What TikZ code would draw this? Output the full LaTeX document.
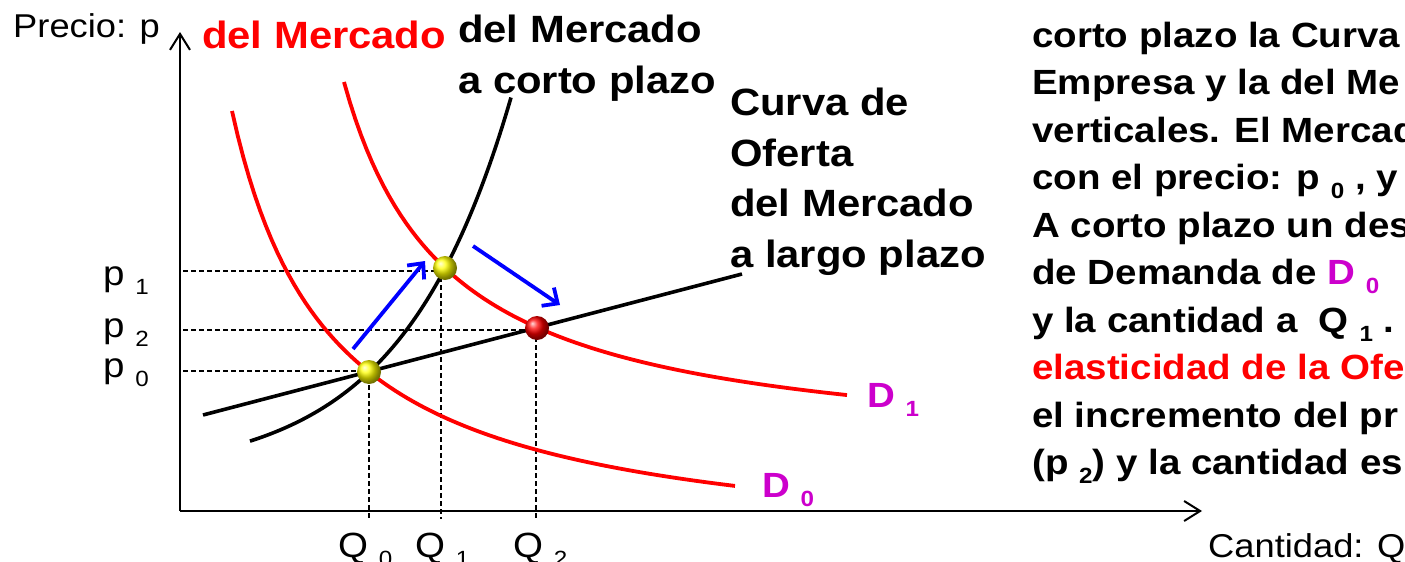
\documentclass[tikz,border=0pt]{standalone}
\usepackage{fontspec}
\setmainfont{Liberation Sans}[FakeStretch=1.1]
\usetikzlibrary{arrows.meta,shadings}

\definecolor{dmag}{RGB}{204,0,204}
\newcommand{\lowidx}[1]{\raisebox{-9pt}{\fontsize{22}{22}\selectfont #1}}

\begin{document}
\begin{tikzpicture}[
    x=1pt, y=-1pt,
    axisarr/.style={line width=2.6pt, -{Straight Barb[length=16pt,width=20pt,line width=2pt]}},
    demcurve/.style={red, line width=3.8pt},
    supcurve/.style={black, line width=3.6pt},
    guide/.style={line width=1.5pt, dash pattern=on 5pt off 3pt},
    shiftarr/.style={blue, line width=3.8pt, -{Straight Barb[length=12pt,width=22pt]}},
    eqball/.style={circle, minimum size=24pt, inner sep=0pt},
    lbltitle/.style={font=\fontsize{38}{50.5}\selectfont\bfseries, align=left,
                     inner sep=0pt, anchor=base west},
    lbltick/.style={font=\fontsize{35}{40}\selectfont, inner sep=0pt, anchor=base west},
    lbldem/.style={font=\fontsize{35}{40}\selectfont\bfseries, text=dmag,
                   inner sep=0pt, anchor=base west},
    textblock/.style={font=\fontsize{35}{47.5}\selectfont\bfseries, align=left,
                      inner sep=0pt, anchor=base west}
  ]

  \useasboundingbox (0,0) rectangle (1405,562);
  \clip (0,0) rectangle (1405,562);

  % ========= axes =========
  \coordinate (O)    at (180,511);
  \coordinate (ytop) at (180,32);
  \coordinate (xend) at (1202,511);
  \draw[axisarr] (O) -- (ytop);
  \draw[axisarr] (O) -- (xend);

  % ========= equilibrium points =========
  \coordinate (E0) at (369,372);
  \coordinate (E1) at (445,268);
  \coordinate (E2) at (537,328);

  % ========= dashed guides to the axes =========
  \coordinate (p0a) at (183,371);
  \coordinate (p1a) at (183,271);
  \coordinate (p2a) at (183,330);
  \coordinate (q0b) at (369,519);
  \coordinate (q1b) at (441,519);
  \coordinate (q2b) at (536,519);
  \draw[guide] (p0a) -| (q0b);
  \draw[guide] (p1a) -| (q1b);
  \draw[guide] (p2a) -| (q2b);

  % ========= demand curves (D0 through E0, D1 through E1 and E2) =========
  \draw[demcurve] plot[domain=232:735, samples=90]
    (\x, {559.2-440.6/((\x-133.7)/100)});
  \draw[demcurve] plot[domain=344:847, samples=90]
    (\x, {459.9-393.76/((\x-239.8)/100)});

  % ========= supply curves =========
  % short run
  \draw[supcurve] plot[domain=250:511, samples=90]
    (\x, {476.4-3.633*exp(0.0091*\x)});
  % long run
  \coordinate (lr0) at (203,415);
  \coordinate (lr1) at (742,274);
  \draw[supcurve] (lr0) -- (lr1);

  % ========= shift arrows =========
  \coordinate (a1s) at (353,349);
  \coordinate (a1e) at (425,261);
  \coordinate (a2s) at (473,246);
  \coordinate (a2e) at (560,305);
  \draw[shiftarr] (a1s) -- (a1e);
  \draw[shiftarr] (a2s) -- (a2e);

  \node[eqball, ball color=yellow] (e0) at (E0) {};
  \node[eqball, ball color=yellow] (e1) at (E1) {};
  \node[eqball, ball color=red]    (e2) at (E2) {};

  % ========= axis labels =========
  \node[lbltick, font=\fontsize{33}{38}\selectfont] (ylab) at (13,37) {Precio: p};
  \node[lbltick, font=\fontsize{33}{38}\selectfont] (xlab) at (1208,557) {Cantidad: Q};
  \node[lbltick] (p1lab) at (103,285) {p \lowidx{1}};
  \node[lbltick] (p2lab) at (103,337) {p \lowidx{2}};
  \node[lbltick] (p0lab) at (103,377) {p \lowidx{0}};
  \node[lbltick] (q0lab) at (338,557) {Q \lowidx{0}};
  \node[lbltick] (q1lab) at (415,557) {Q \lowidx{1}};
  \node[lbltick] (q2lab) at (513,557) {Q \lowidx{2}};
  \node[lbldem] (d1lab) at (867,407) {D \lowidx{1}};
  \node[lbldem] (d0lab) at (762,497) {D \lowidx{0}};

  % ========= curve titles =========
  \node[lbltitle, text=red] (dmkt) at (202,48) {del Mercado};
  \node[lbltitle] (sshort) at (458,93) {del Mercado\\a corto plazo};
  \node[lbltitle] (slong) at (730,267) {Curva de\\Oferta\\del Mercado\\a largo plazo};

  % ========= explanation (cut at the right edge) =========
  \node[textblock] (expl) at (1032,474.5)
    {corto plazo la Curva\\
     Empresa y la del Me\\
     verticales. El Mercad\\
     con el precio: p \lowidx{0} , y\\
     A corto plazo un des\\
     de Demanda de \textcolor{dmag}{D \lowidx{0}}\\
     y la cantidad a~ Q \lowidx{1} .\\
     \textcolor{red}{elasticidad de la Ofe}\\
     el incremento del pr\\
     (p \lowidx{2}) y la cantidad es};

\end{tikzpicture}
\end{document}
